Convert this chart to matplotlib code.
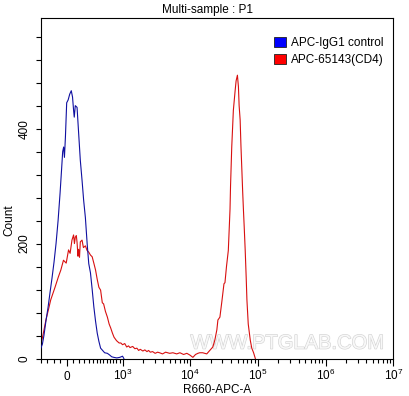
import numpy as np
import matplotlib
matplotlib.use("Agg")
import matplotlib.pyplot as plt
from matplotlib.ticker import FixedLocator, FixedFormatter, NullFormatter
from matplotlib.patches import Patch
import matplotlib.patheffects as pe

plt.rcParams['font.family'] = ['Liberation Sans', 'DejaVu Sans']
plt.rcParams['mathtext.fontset'] = 'custom'
plt.rcParams['mathtext.rm'] = 'Liberation Sans'
plt.rcParams['mathtext.it'] = 'Liberation Sans'

# ---- data (fluorescence intensity, event count) ----
blue_x = [-299, -277, -256, -230, -204, -180, -156, -133, -111, -89, -68, -52, -41, -31,
          -23, -13, 0, 15, 31, 47, 60, 71, 78, 89, 108, 125, 144, 164, 183, 204, 226,
          247, 270, 294, 318, 344, 371, 398, 428, 465, 504, 561, 613, 661, 713, 797,
          889, 980, 1027]
blue_y = [18, 25, 40, 65, 88, 114, 140, 168, 200, 240, 288, 330, 360, 368,
          350, 385, 445, 450, 460, 466, 455, 432, 420, 440, 437, 393, 345, 310, 275, 245, 200,
          165, 149, 120, 90, 65, 44, 30, 18, 14, 10, 9, 6, 3, 2, 1,
          2, 4, 0]

red_x = [-300, -293, -270, -230, -200, -171, -122, -86, -60, -33, -5, 19, 35, 54, 71, 80,
         89, 100, 108, 118, 125, 135, 144, 164, 180, 204, 225, 247, 270, 294, 320, 344,
         370, 398, 428, 459, 484, 520, 561, 600, 637, 680, 721, 790, 867, 922,
         980, 1060, 1135, 1210, 1275, 1400, 1510, 1620, 1720, 1820, 1990, 2130, 2290,
         2420, 2570, 2780, 3030, 3300, 3520, 3900, 4330, 4970, 5550, 6320, 7050, 7990,
         8930, 9890, 10970, 12000, 13000,
         13800, 15300, 17570, 19470, 21600, 23130, 24780, 25670, 27480, 29430, 31550,
         32640, 34370, 36580, 37850, 38770, 39450, 41100, 43430, 46030, 47660, 49850,
         51590, 52840, 54710, 56220, 57990, 59620, 61260, 62750, 64980, 67230, 68870,
         72040, 77170, 81230, 86420, 91660]
red_y = [97, 28, 40, 67, 84, 102, 124, 142, 154, 171, 166, 189, 183, 206, 215, 200,
         211, 214, 202, 178, 190, 176, 203, 206, 193, 196, 188, 185, 180, 177, 165, 154,
         138, 124, 119, 97, 95, 82, 72, 60, 53, 44, 37, 31, 27, 27,
         24, 26, 20, 22, 19, 21, 17, 18, 14, 16, 13, 15, 12,
         14, 11, 12, 9, 11, 10, 8, 11, 9, 10, 8, 10, 7,
         9, 6, 2, 7, 9,
         10, 10, 8, 14, 20, 32, 50, 67, 72, 100, 130,
         132, 160, 188, 230, 260, 300, 368, 432, 465, 483, 493,
         473, 440, 415, 370, 328, 290, 257, 230, 188, 140, 102,
         60, 32, 18, 10, 0]

series_labels = ['APC-IgG1 control', 'APC-65143(CD4)']
line_colors = ['#1010a0', '#d81010']
legend_colors = ['#0000ff', '#ff0000']

x_major = [0, 1e3, 1e4, 1e5, 1e6, 1e7]
x_major_labels = ['0', r'$10^3$', r'$10^4$', r'$10^5$', r'$10^6$', r'$10^7$']
x_minor_lin = [-300, -215, -135, -70, 62, 130, 191, 251, 303, 365, 420, 476, 550, 624,
               690, 781, 880]
y_major = [0, 200, 400]
y_minor = [40, 80, 120, 160, 240, 280, 320, 360, 440, 480, 520, 560]

C = 300.0
def fwd(x):
    return np.arcsinh(np.asarray(x, dtype=float) / C) / np.log(10)
def inv(y):
    return C * np.sinh(np.asarray(y, dtype=float) * np.log(10))

W, H = 409, 396
fig = plt.figure(figsize=(W / 100, H / 100), dpi=100)
ax = fig.add_axes([40.7 / W, 1 - 358.5 / H, (393.3 - 40.7) / W, (358.5 - 18.3) / H])
ax.set_xscale('function', functions=(fwd, inv))
ax.set_xlim(-301, 1e7)
ax.set_ylim(0, 592)

ax.text(0.699, 0.045, 'WWW.PTGLAB.COM', transform=ax.transAxes, ha='center', va='center',
        fontsize=14.5, color='#f8f8f8', zorder=1,
        path_effects=[pe.Stroke(linewidth=0.9, foreground='#d4d4d4'), pe.Normal()])

ax.plot(blue_x, blue_y, color=line_colors[0], lw=0.8, zorder=3)
ax.plot(red_x, red_y, color=line_colors[1], lw=0.8, zorder=2)

# ticks
log_minor = [m * 10 ** e for e in range(3, 7) for m in range(2, 10)]
ax.xaxis.set_major_locator(FixedLocator(x_major))
ax.xaxis.set_major_formatter(FixedFormatter(x_major_labels))
ax.xaxis.set_minor_locator(FixedLocator(x_minor_lin + log_minor))
ax.xaxis.set_minor_formatter(NullFormatter())
ax.yaxis.set_major_locator(FixedLocator(y_major))
ax.yaxis.set_minor_locator(FixedLocator(y_minor))
ax.yaxis.set_minor_formatter(NullFormatter())

ax.tick_params(axis='x', which='major', direction='out', length=5, width=0.8,
               pad=10.5, labelsize=8.5)
ax.tick_params(axis='x', which='minor', direction='out', length=3, width=0.8)
ax.tick_params(axis='y', which='both', direction='out', length=3.5, width=0.8,
               labelsize=8.5, pad=4)
for t in ax.get_xticklabels():
    t.set_verticalalignment('baseline')
for t in ax.get_yticklabels():
    t.set_rotation(90)
    t.set_verticalalignment('center')

for s in ax.spines.values():
    s.set_linewidth(0.8)

ax.set_xlabel('R660-APC-A', fontsize=8.5)
ax.xaxis.set_label_coords(0.5, -0.074)
ax.set_ylabel('Count', fontsize=8.5)
ax.yaxis.set_label_coords(-0.073, 0.407)

fig.text(208 / W, 1 - 13.3 / H, 'Multi-sample : P1', ha='center', va='baseline', fontsize=8.5)

handles = [Patch(facecolor=c, edgecolor='#202020', linewidth=0.6) for c in legend_colors]
ax.legend(handles, series_labels, loc='upper left', bbox_to_anchor=(274 / W, 1 - 37 / H),
          bbox_transform=fig.transFigure, frameon=False, fontsize=8.5,
          handlelength=1.0, handleheight=0.9, handletextpad=0.4, borderpad=0,
          borderaxespad=0, labelspacing=0.4)

fig.savefig('out.png', dpi=100)
